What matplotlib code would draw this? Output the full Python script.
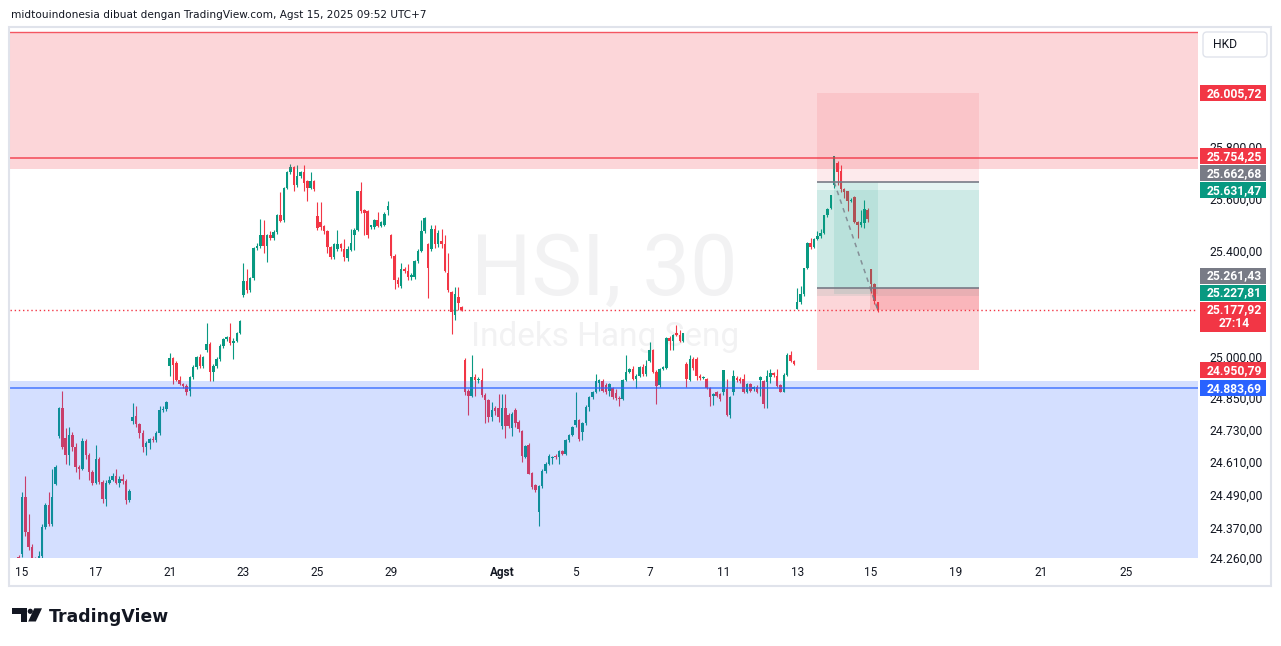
import numpy as np
import matplotlib.pyplot as plt
from matplotlib import transforms
from matplotlib.patches import Rectangle, Polygon, Circle, FancyBboxPatch
from matplotlib.ticker import FixedLocator, NullLocator, NullFormatter

# trading days shown (30 min bars, 11 per session)
day_dates = ['07-14', '07-15', '07-16', '07-17', '07-18', '07-21', '07-22', '07-23',
             '07-24', '07-25', '07-28', '07-29', '07-30', '07-31', '08-01', '08-04',
             '08-05', '08-06', '08-07', '08-08', '08-11', '08-12', '08-13', '08-14', '08-15']
bars_per_day = [1] + [11] * 23 + [3]

tick_days = {'07-15': '15', '07-17': '17', '07-21': '21', '07-23': '23', '07-25': '25',
             '07-29': '29', '08-01': 'Agst', '08-05': '5', '08-07': '7', '08-11': '11',
             '08-13': '13', '08-15': '15'}
future_labels = ['19', '21', '25']
future_days_ahead = [2, 4, 6]
future_bars_per_day = 12.65

opens = [
    24262,
    24275, 24484, 24354, 24300, 24255, 24250, 24268, 24371, 24453, 24384, 24531,
    24706, 24810, 24700, 24635, 24712, 24665, 24593, 24585, 24690, 24635, 24575,
    24535, 24620, 24538, 24475, 24535, 24545, 24560, 24535, 24550, 24540, 24470,
    24762, 24780, 24750, 24716, 24665, 24680, 24697, 24691, 24716, 24802, 24806,
    24965, 24996, 24979, 24916, 24900, 24893, 24875, 24925, 24962, 25000, 24966,
    25027, 25048, 24946, 24966, 24991, 25041, 25066, 25075, 25052, 25060, 25091,
    25234, 25285, 25252, 25297, 25410, 25418, 25459, 25418, 25460, 25448, 25471,
    25537, 25516, 25641, 25703, 25721, 25653, 25688, 25703, 25666, 25641, 25666,
    25534, 25509, 25496, 25474, 25416, 25378, 25409, 25425, 25409, 25372, 25404,
    25459, 25481, 25628, 25556, 25552, 25491, 25491, 25516, 25494, 25500, 25556,
    25459, 25381, 25291, 25266, 25331, 25325, 25300, 25300, 25362, 25400, 25474,
    25425, 25406, 25484, 25425, 25437, 25425, 25316, 25244, 25156, 25225, 25187,
    24990, 24875, 24856, 24925, 24916, 24916, 24859, 24841, 24777, 24812, 24812,
    24743, 24812, 24783, 24738, 24802, 24758, 24725, 24631, 24675, 24571, 24525,
    24428, 24521, 24578, 24603, 24625, 24631, 24628, 24653, 24641, 24691, 24712,
    24746, 24766, 24721, 24753, 24813, 24850, 24871, 24904, 24912, 24896, 24875,
    24884, 24866, 24847, 24844, 24915, 24946, 24956, 24919, 24931, 24962, 24935,
    24987, 25025, 24946, 24897, 24956, 24959, 25071, 25062, 25089, 25084, 25059,
    24975, 24916, 24994, 24994, 24929, 24921, 24918, 24884, 24855, 24868, 24862,
    24871, 24881, 24784, 24868, 24923, 24918, 24918, 24871, 24900, 24881, 24890,
    24913, 24912, 24906, 24925, 24941, 24928, 24896, 24871, 24934, 25009, 24987,
    25181, 25206, 25237, 25335, 25431, 25415, 25444, 25456, 25469, 25535, 25565,
    25652, 25735, 25706, 25635, 25628, 25590, 25606, 25510, 25497, 25506, 25556,
    25331, 25275, 25206,
]
closes = [
    24258,
    24484, 24354, 24300, 24255, 24248, 24268, 24371, 24453, 24384, 24481, 24594,
    24810, 24666, 24635, 24712, 24665, 24593, 24585, 24690, 24635, 24575, 24535,
    24620, 24538, 24475, 24535, 24545, 24560, 24535, 24550, 24540, 24470, 24503,
    24778, 24750, 24716, 24665, 24680, 24697, 24691, 24716, 24802, 24806, 24831,
    24996, 24970, 24916, 24900, 24893, 24871, 24925, 24962, 25000, 24966, 25000,
    25048, 24946, 24966, 24991, 25041, 25066, 25075, 25052, 25060, 25091, 25135,
    25285, 25252, 25297, 25410, 25418, 25459, 25418, 25460, 25448, 25473, 25537,
    25515, 25641, 25703, 25721, 25653, 25688, 25700, 25660, 25641, 25666, 25637,
    25487, 25491, 25474, 25416, 25378, 25425, 25425, 25410, 25378, 25409, 25429,
    25481, 25628, 25552, 25544, 25460, 25497, 25516, 25494, 25512, 25541, 25572,
    25381, 25291, 25275, 25331, 25325, 25300, 25310, 25362, 25400, 25474, 25525,
    25337, 25484, 25425, 25469, 25425, 25325, 25253, 25169, 25237, 25203, 25178,
    24871, 24856, 24925, 24916, 24920, 24859, 24841, 24777, 24803, 24800, 24777,
    24812, 24743, 24743, 24787, 24753, 24731, 24634, 24671, 24566, 24519, 24509,
    24521, 24578, 24603, 24634, 24631, 24628, 24653, 24641, 24691, 24712, 24741,
    24766, 24696, 24753, 24815, 24850, 24871, 24912, 24915, 24875, 24871, 24900,
    24850, 24847, 24844, 24915, 24946, 24956, 24919, 24931, 24962, 24935, 24966,
    25025, 24946, 24891, 24956, 24962, 25071, 25062, 25084, 25084, 25059, 25089,
    24919, 24991, 24959, 24929, 24921, 24926, 24884, 24850, 24863, 24856, 24843,
    24952, 24784, 24850, 24928, 24913, 24912, 24871, 24900, 24875, 24887, 24871,
    24925, 24825, 24931, 24941, 24934, 24893, 24871, 24934, 25009, 24987, 24975,
    25206, 25237, 25335, 25431, 25415, 25444, 25456, 25469, 25535, 25560, 25612,
    25762, 25700, 25635, 25625, 25590, 25596, 25510, 25497, 25510, 25560, 25522,
    25275, 25209, 25178,
]
highs = [
    24272,
    24502, 24559, 24421, 24310, 24262, 24284, 24384, 24462, 24502, 24584, 24600,
    24815, 24872, 24737, 24740, 24720, 24680, 24600, 24700, 24695, 24645, 24580,
    24675, 24630, 24545, 24545, 24560, 24570, 24585, 24560, 24565, 24550, 24510,
    24828, 24816, 24755, 24730, 24690, 24700, 24705, 24725, 24816, 24816, 24835,
    25016, 25000, 24985, 24930, 24905, 24900, 24930, 24970, 25004, 25010, 25005,
    25128, 25055, 24975, 25000, 25050, 25070, 25080, 25128, 25070, 25095, 25140,
    25353, 25330, 25300, 25415, 25430, 25521, 25519, 25465, 25475, 25480, 25540,
    25625, 25645, 25706, 25731, 25725, 25728, 25706, 25728, 25670, 25703, 25670,
    25585, 25585, 25500, 25480, 25420, 25431, 25479, 25430, 25446, 25419, 25485,
    25487, 25630, 25665, 25560, 25556, 25500, 25520, 25547, 25515, 25547, 25591,
    25466, 25390, 25300, 25356, 25340, 25350, 25315, 25365, 25406, 25516, 25531,
    25430, 25500, 25500, 25480, 25484, 25459, 25394, 25250, 25262, 25262, 25190,
    24996, 24880, 25006, 24935, 24925, 24958, 24865, 24845, 24831, 24818, 24861,
    24861, 24861, 24790, 24795, 24810, 24765, 24730, 24675, 24680, 24575, 24530,
    24525, 24585, 24610, 24640, 24634, 24640, 24655, 24656, 24695, 24715, 24745,
    24869, 24770, 24758, 24820, 24855, 24875, 24937, 24920, 24918, 24905, 24905,
    24890, 24880, 24855, 24920, 25009, 24960, 24965, 24935, 24966, 24975, 24990,
    25056, 25030, 24950, 24960, 24965, 25075, 25078, 25088, 25121, 25100, 25092,
    24980, 25006, 25000, 25000, 24935, 24930, 24922, 24888, 24866, 24872, 24865,
    24952, 24919, 24855, 24950, 24930, 24925, 24937, 24905, 24905, 24892, 24895,
    24931, 24915, 24950, 24956, 24945, 24956, 24900, 24940, 25015, 25021, 24990,
    25260, 25268, 25335, 25435, 25448, 25450, 25475, 25485, 25535, 25565, 25615,
    25765, 25745, 25727, 25640, 25630, 25600, 25610, 25515, 25556, 25594, 25565,
    25331, 25280, 25206,
]
lows = [
    24240,
    24262, 24340, 24290, 24240, 24238, 24245, 24255, 24365, 24378, 24375, 24525,
    24700, 24660, 24605, 24600, 24650, 24575, 24550, 24580, 24620, 24545, 24525,
    24530, 24530, 24460, 24450, 24530, 24540, 24530, 24520, 24530, 24455, 24465,
    24750, 24740, 24700, 24646, 24635, 24660, 24685, 24685, 24710, 24795, 24800,
    24931, 24900, 24910, 24895, 24885, 24860, 24854, 24920, 24955, 24960, 24960,
    25020, 24910, 24910, 24960, 24985, 25035, 25060, 25045, 24993, 25055, 25085,
    25226, 25241, 25245, 25290, 25405, 25410, 25393, 25358, 25440, 25440, 25465,
    25510, 25510, 25635, 25695, 25628, 25645, 25680, 25630, 25591, 25635, 25630,
    25480, 25481, 25465, 25394, 25370, 25369, 25400, 25400, 25362, 25360, 25400,
    25404, 25475, 25545, 25459, 25450, 25485, 25485, 25490, 25490, 25495, 25535,
    25375, 25256, 25262, 25260, 25318, 25290, 25290, 25295, 25355, 25395, 25470,
    25221, 25400, 25410, 25415, 25410, 25320, 25245, 25087, 25140, 25175, 25172,
    24860, 24784, 24850, 24856, 24905, 24850, 24753, 24760, 24762, 24785, 24760,
    24733, 24700, 24735, 24705, 24740, 24720, 24609, 24625, 24566, 24510, 24500,
    24375, 24515, 24570, 24600, 24605, 24620, 24605, 24635, 24635, 24685, 24705,
    24740, 24690, 24691, 24748, 24800, 24845, 24865, 24875, 24870, 24862, 24856,
    24845, 24840, 24816, 24840, 24910, 24940, 24915, 24884, 24925, 24928, 24930,
    24980, 24940, 24825, 24890, 24950, 24955, 25028, 25025, 25080, 25055, 25055,
    24887, 24910, 24950, 24916, 24915, 24918, 24880, 24818, 24821, 24850, 24838,
    24860, 24780, 24775, 24860, 24908, 24905, 24865, 24865, 24870, 24872, 24866,
    24856, 24812, 24809, 24905, 24925, 24890, 24868, 24868, 24930, 24980, 24970,
    25181, 25200, 25230, 25330, 25408, 25410, 25440, 25450, 25465, 25530, 25560,
    25640, 25652, 25625, 25600, 25553, 25585, 25505, 25450, 25490, 25486, 25512,
    25240, 25200, 25170,
]

# drawings
res_zone = (25714, 26244)
res_line = 25754.25
sup_zone = (23900, 24911)
sup_line = 24883.69

short_stop, short_entry, short_target = 26005.72, 25662.68, 25227.81
long_target, long_entry, long_stop = 25631.47, 25261.43, 24950.79
last_price = 25177.92
countdown = '27:14'
tool_start, tool_end = 237.8, 286.2
short_fill, long_fill = 243, 253.7

price_labels = [26005.72, 25754.25, 25662.68, 25631.47, 25261.43, 25227.81,
                25177.92, 24950.79, 24883.69]
label_colors = ['#f23645', '#f23645', '#787b86', '#089981', '#787b86', '#089981',
                '#f23645', '#f23645', '#2962ff']

y_ticks = [25800, 25600, 25400, 25000, 24850, 24730, 24610, 24490, 24370, 24260]

UP, DOWN = '#089981', '#f23645'
TXT = '#131722'
W, H = 1281, 646


def eu(v):
    return f'{v:,.2f}'.replace(',', 'X').replace('.', ',').replace('X', '.')


o = np.array(opens, float)
c = np.array(closes, float)
hi = np.maximum(np.array(highs, float), np.maximum(o, c))
lo = np.minimum(np.array(lows, float), np.minimum(o, c))
x = np.arange(len(c))
last_i = x[-1]

fig = plt.figure(figsize=(W / 100, H / 100), dpi=100)
fig.patch.set_facecolor('white')
# pixel transform, origin top-left
px = transforms.Affine2D().scale(1 / W, -1 / H).translate(0, 1) + fig.transFigure

ax = fig.add_axes([10 / W, 1 - 558 / H, 1188 / W, 531 / H])
ax.set_facecolor('white')
for s in ax.spines.values():
    s.set_visible(False)
ax.set_yscale('log')
ax.set_ylim(24260, 26265)
ax.set_xlim(1 + (10 - 22) / 3.356, 1 + (1198 - 22) / 3.356)

# watermark
ax.text(604.5, 295, 'HSI, 30', transform=px, ha='center', va='baseline',
        fontsize=61, family='Roboto', color='#f2f2f3', zorder=0)
ax.text(605, 345.7, 'Indeks Hang Seng', transform=px, ha='center', va='baseline',
        fontsize=24, family='Roboto', color='#f2f2f3', zorder=0)

# candles
cols = np.where(c >= o, UP, DOWN)
ax.vlines(x, lo, hi, colors=cols, lw=0.8, zorder=2)
ax.bar(x, np.maximum(np.abs(c - o), 3.5), bottom=np.minimum(o, c), width=0.75,
       color=cols, lw=0, zorder=2)

# zones
ax.axhspan(*res_zone, color=DOWN, alpha=0.2, lw=0, zorder=3)
ax.axhline(res_zone[1], color=DOWN, lw=1, alpha=0.8, zorder=3)
ax.axhline(res_line, color=DOWN, lw=1.3, alpha=0.75, zorder=3)
ax.axhspan(*sup_zone, color='#2962ff', alpha=0.2, lw=0, zorder=3)
ax.axhline(sup_line, color='#2962ff', lw=1.3, alpha=0.7, zorder=3)

# position tools
tw = tool_end - tool_start


def box(x0, w, y0, y1, col, a):
    ax.add_patch(Rectangle((x0, y0), w, y1 - y0, color=col, alpha=a, lw=0, zorder=3))


box(tool_start, tw, short_entry, short_stop, DOWN, 0.1)
box(tool_start, tw, short_target, short_entry, UP, 0.1)
box(tool_start, tw, long_entry, long_target, UP, 0.1)
box(tool_start, tw, long_stop, long_entry, DOWN, 0.2)
box(short_fill, last_i - short_fill, short_target + 8, short_entry, UP, 0.1)
box(long_fill, tool_end - long_fill, last_price, long_entry, DOWN, 0.2)
ax.hlines([short_entry, long_entry], tool_start, tool_end, colors='#787b86', lw=1.2, zorder=4)
ax.plot([short_fill, last_i], [short_entry, last_price], color='#787b86', lw=1.1,
        ls=(0, (3, 3)), alpha=0.8, zorder=4)
ax.plot([long_fill, last_i], [long_entry, last_price], color='#787b86', lw=1.1,
        ls=(0, (3, 3)), alpha=0.8, zorder=4)

# last price line
ax.axhline(last_price, color=DOWN, lw=1, ls=(0, (1, 2)), zorder=4)

# price scale
ax.yaxis.tick_right()
ax.yaxis.set_major_locator(FixedLocator(y_ticks))
ax.yaxis.set_minor_locator(NullLocator())
ax.yaxis.set_minor_formatter(NullFormatter())
ax.set_yticklabels([eu(v) for v in y_ticks])
ax.tick_params(axis='y', length=0, pad=8, labelsize=8.7, labelcolor=TXT)
for t in ax.get_yticklabels():
    t.set_family('Roboto')

# time scale
day_start = np.cumsum([0] + bars_per_day[:-1])
tpos, tlab = [], []
for d, s in zip(day_dates, day_start):
    if d in tick_days:
        tpos.append(s)
        tlab.append(tick_days[d])
for lab, n in zip(future_labels, future_days_ahead):
    tpos.append(day_start[-1] + n * future_bars_per_day)
    tlab.append(lab)
ax.set_xticks(tpos)
ax.set_xticklabels(tlab)
ax.tick_params(axis='x', length=0, pad=6, labelsize=8.5, labelcolor=TXT)
for t in ax.get_xticklabels():
    t.set_family('Roboto')
    if t.get_text() == 'Agst':
        t.set_fontweight('bold')

# price labels on the scale, stacked like the platform does
fig_h = fig.bbox.height
order = np.argsort(price_labels)
prev = None
for k in order:
    p = price_labels[k]
    yy = fig_h - ax.transData.transform((0, p))[1]
    if prev is not None:
        yy = min(yy, prev - 17)
    prev = yy
    two = p == last_price
    hgt = 30 if two else 16
    fig.add_artist(Rectangle((1200, yy - 8), 66, hgt, transform=px, color=label_colors[k],
                             lw=0, zorder=5))
    fig.text(1234, yy, eu(p), transform=px, ha='center', va='center', color='white',
             fontsize=8.7, fontweight='bold', family='Roboto', zorder=6)
    if two:
        fig.text(1234, yy + 14, countdown, transform=px, ha='center', va='center',
                 color='white', fontsize=8.7, fontweight='bold', family='Roboto', zorder=6)

# currency button
fig.add_artist(FancyBboxPatch((1203, 32), 64, 25, boxstyle='round,pad=0,rounding_size=4',
                              transform=px, fc='white', ec='#e0e3eb', lw=1, zorder=5))
fig.text(1212.5, 44.5, 'HKD', transform=px, ha='left', va='center', fontsize=8.7,
         family='Roboto', color=TXT, zorder=6)

# frame
fig.add_artist(Rectangle((9, 26.5), 1262, 559, transform=px, fill=False, ec='#e0e3eb',
                         lw=1.5, zorder=4))

# header
fig.text(11, 15, 'midtouindonesia dibuat dengan TradingView.com, Agst 15, 2025 09:52 UTC+7',
         transform=px, ha='left', va='center', fontsize=7.6, color=TXT)

# footer logo
fig.add_artist(Polygon([(11.7, 608.3), (26.7, 608.3), (26.7, 621.5), (20.7, 621.5),
                        (20.7, 614.3), (11.7, 614.3)], closed=True, transform=px,
                       color='#131722', lw=0))
fig.add_artist(Circle((30.3, 611.3), 2.6, transform=px, color='#131722', lw=0))
fig.add_artist(Polygon([(34.3, 608.3), (42.0, 608.3), (35.8, 621.5), (28.2, 621.5)],
                       closed=True, transform=px, color='#131722', lw=0))
fig.text(48.5, 622, 'TradingView', transform=px, ha='left', va='baseline', fontsize=12.4,
         fontweight='bold', color='#131722')

fig.savefig('out.png', dpi=100, facecolor='white')
